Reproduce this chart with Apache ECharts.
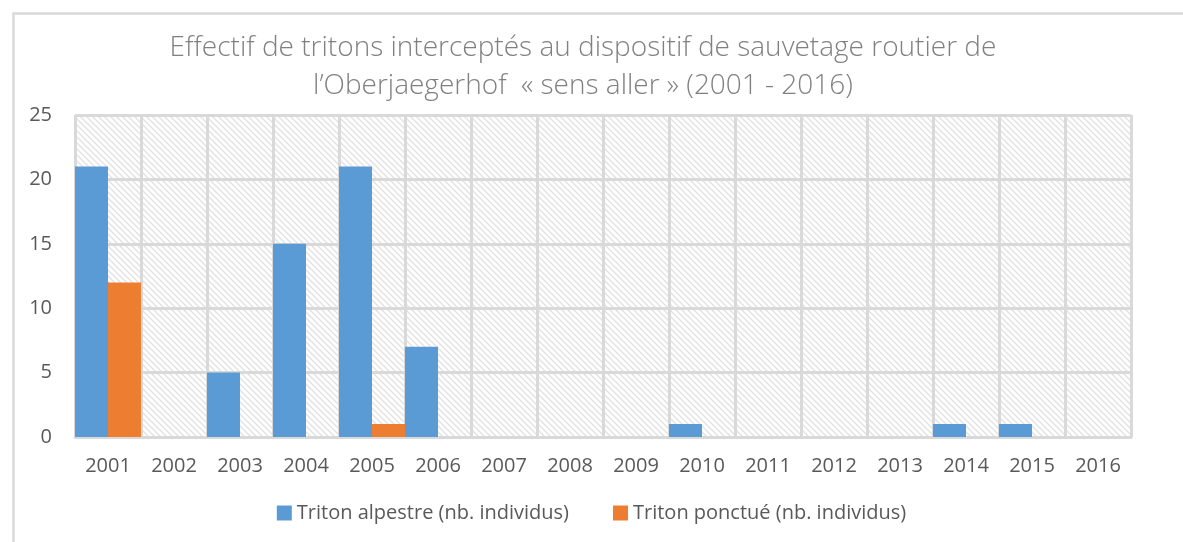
<!DOCTYPE html>
<html>
<head>
<meta charset="utf-8">
<style>
  html, body { margin: 0; padding: 0; background: #ffffff; }
  #chart { width: 1183px; height: 542px; }
</style>
<script src="https://cdn.jsdelivr.net/npm/echarts@6/dist/echarts.min.js"></script>
</head>
<body>
<div id="chart"></div>
<script>
// Survey years
const years = ['2001','2002','2003','2004','2005','2006','2007','2008',
               '2009','2010','2011','2012','2013','2014','2015','2016'];
// Newts intercepted per year, by species
const alpestre = [21, 0, 5, 15, 21, 7, 0, 0, 0, 1, 0, 0, 0, 1, 1, 0];
const ponctue  = [12, 0, 0, 0, 1, 0, 0, 0, 0, 0, 0, 0, 0, 0, 0, 0];
const seriesNames = ['Triton alpestre (nb. individus)', 'Triton ponctué (nb. individus)'];
const titleText = 'Effectif de tritons interceptés au dispositif de sauvetage routier de\nl\u2019Oberjaegerhof  \u00ab sens aller \u00bb (2001 - 2016)';

// Hatched fill for the plot background
function hatchCanvas() {
  const c = document.createElement('canvas');
  c.width = 6; c.height = 6;
  const g = c.getContext('2d');
  g.fillStyle = '#ffffff';
  g.fillRect(0, 0, 6, 6);
  g.strokeStyle = '#e2e2e2';
  g.lineWidth = 1.4;
  g.beginPath();
  g.moveTo(-1, -1); g.lineTo(7, 7);
  g.moveTo(-4, 2); g.lineTo(4, 10);
  g.moveTo(2, -4); g.lineTo(10, 4);
  g.stroke();
  return c;
}

const font = "'Open Sans', 'Noto Sans', sans-serif";
const chart = echarts.init(document.getElementById('chart'), null, { renderer: 'canvas' });

chart.setOption({
  animation: false,
  backgroundColor: '#ffffff',
  title: {
    text: titleText,
    left: 578,
    textAlign: 'center',
    top: 24,
    textStyle: {
      fontFamily: font,
      fontWeight: 300,
      fontSize: 28,
      color: '#808080',
      lineHeight: 38
    }
  },
  graphic: [{
    type: 'rect',
    left: 11, top: 11,
    shape: { width: 1200, height: 560 },
    style: { fill: 'none', stroke: '#d9d9d9', lineWidth: 2.5 },
    silent: true
  }],
  legend: {
    bottom: 14,
    left: 'center',
    itemWidth: 15,
    itemHeight: 15,
    itemGap: 44,
    icon: 'rect',
    textStyle: { fontFamily: font, fontSize: 20, color: '#595959' },
    data: seriesNames
  },
  grid: {
    left: 75, right: 52, top: 115, bottom: 105,
    show: true,
    borderWidth: 0,
    backgroundColor: { image: hatchCanvas(), repeat: 'repeat' }
  },
  xAxis: {
    type: 'category',
    data: years,
    boundaryGap: true,
    axisLine: { show: true, lineStyle: { color: '#d9d9d9', width: 3 } },
    axisTick: { show: false },
    axisLabel: { fontFamily: font, fontSize: 20, color: '#595959', margin: 19, interval: 0 },
    splitLine: { show: true, interval: 0, lineStyle: { color: '#d9d9d9', width: 3 } }
  },
  yAxis: {
    type: 'value',
    min: 0, max: 25, interval: 5,
    axisLine: { show: false },
    axisTick: { show: false },
    axisLabel: { fontFamily: font, fontSize: 20, color: '#595959', margin: 23 },
    splitLine: { show: true, lineStyle: { color: '#d9d9d9', width: 3 } }
  },
  series: [
    {
      name: seriesNames[0],
      type: 'bar',
      data: alpestre,
      barGap: '0%',
      barCategoryGap: '0%',
      itemStyle: { color: '#5b9bd5' }
    },
    {
      name: seriesNames[1],
      type: 'bar',
      data: ponctue,
      barGap: '0%',
      barCategoryGap: '0%',
      itemStyle: { color: '#ed7d31' }
    }
  ]
});
</script>
</body>
</html>
